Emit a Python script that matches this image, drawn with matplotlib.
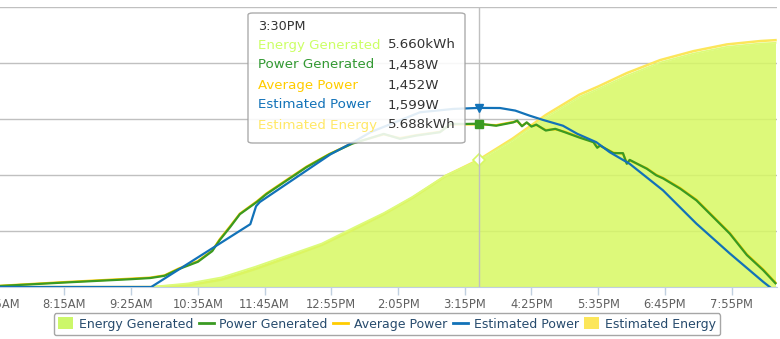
import matplotlib
matplotlib.use("Agg")
import matplotlib.pyplot as plt
from matplotlib.patches import Patch, FancyBboxPatch
from matplotlib.lines import Line2D

# --- data (times are 24h "H:MM") ---
power_times = ["7:05", "8:15", "9:25", "9:45", "10:00", "10:15", "10:35", "10:50", "10:58",
               "11:09", "11:19", "11:37", "11:47", "12:08", "12:29", "12:53", "13:17", "13:50",
               "14:07", "14:24", "14:49", "15:00", "15:17", "15:30", "15:48", "16:06", "16:10",
               "16:15", "16:20", "16:25", "16:30", "16:40", "16:50", "17:00", "17:15", "17:30",
               "17:34", "17:37", "17:51", "18:01", "18:05", "18:08", "18:26", "18:36", "18:43",
               "19:01", "19:18", "19:39", "19:53", "20:11", "20:28", "20:41"]
power_generated = [8, 40, 70, 80, 100, 160, 225, 320, 420,
                   537, 650, 760, 830, 950, 1070, 1185, 1280, 1367,
                   1323, 1352, 1382, 1456, 1456, 1458, 1440, 1470, 1486,
                   1435, 1470, 1432, 1450, 1397, 1412, 1382, 1335, 1293,
                   1243, 1263, 1195, 1195, 1100, 1135, 1056, 997, 970,
                   878, 774, 596, 477, 285, 151, 33]
average_power = [10, 44, 75, 84, 104, 166, 231, 326, 428,
                 545, 655, 766, 836, 956, 1075, 1188, 1284, 1362,
                 1330, 1356, 1386, 1450, 1452, 1452, 1445, 1474, 1480,
                 1440, 1466, 1438, 1446, 1402, 1408, 1386, 1340, 1298,
                 1250, 1260, 1200, 1190, 1108, 1130, 1060, 1002, 975,
                 884, 780, 602, 483, 292, 158, 40]

est_power_times = ["7:05", "9:46", "11:30", "11:36", "11:40", "12:54",
                   "13:18", "13:36", "14:28", "15:03", "15:30", "15:52", "16:08", "16:23", "16:37",
                   "16:58", "17:13", "17:33", "17:47", "18:08", "18:43", "19:18", "19:53", "20:28",
                   "20:35"]
estimated_power = [0, 0, 561, 721, 759, 1184,
                   1293, 1382, 1560, 1590, 1599, 1598, 1575, 1530, 1492,
                   1440, 1368, 1293, 1204, 1100, 863, 566, 300, 47,
                   0]

energy_times = ["7:05", "9:45", "10:25", "11:00", "11:35", "12:10", "12:45", "13:20", "13:50",
                "14:20", "14:55", "15:30", "16:05", "16:40", "17:15", "17:35", "18:05", "18:40",
                "19:15", "19:50", "20:25", "20:41"]
energy_generated = [0.0, 0.0, 0.16, 0.43, 0.90, 1.42, 1.94, 2.68, 3.30,
                    4.02, 4.98, 5.66, 6.54, 7.58, 8.47, 8.84, 9.43, 10.02,
                    10.42, 10.72, 10.87, 10.90]
estimated_energy = [0.0, 0.0, 0.08, 0.33, 0.80, 1.33, 1.88, 2.60, 3.25,
                    3.98, 4.96, 5.688, 6.62, 7.68, 8.58, 8.95, 9.55, 10.13,
                    10.53, 10.83, 10.98, 11.02]

tick_labels = ["7:05AM", "8:15AM", "9:25AM", "10:35AM", "11:45AM", "12:55PM", "2:05PM",
               "3:15PM", "4:25PM", "5:35PM", "6:45PM", "7:55PM"]
hover_time = "15:30"
hover_label = "3:30PM"
hover_values = ["5.660kWh", "1,458W", "1,452W", "1,599W", "5.688kWh"]


def to_min(s):
    h, m = s.split(":")
    return int(h) * 60 + int(m)


def label_to_min(s):
    hm, ampm = s[:-2], s[-2:]
    h, m = hm.split(":")
    h = int(h) % 12 + (12 if ampm == "PM" else 0)
    return h * 60 + int(m)


pt = [to_min(t) for t in power_times]
ept = [to_min(t) for t in est_power_times]
et = [to_min(t) for t in energy_times]
ht = to_min(hover_time)

C_ENERGY = "#d7f863"
C_ENERGY_EDGE = "#dcfb7a"
C_POWER = "#3a9a22"
C_AVG = "#ffcc00"
C_EST = "#1272b8"
C_EST_EN = "#fce65a"

plt.rcParams["font.family"] = ["DejaVu Sans"]

W, H = 780, 339
fig = plt.figure(figsize=(W / 100, H / 100), dpi=100)
fig.patch.set_facecolor("white")

rect = [-3 / W, 52 / H, 780 / W, 280 / H]
ax2 = fig.add_axes(rect)          # energy (kWh), drawn underneath
ax = fig.add_axes(rect, sharex=ax2)  # power (W), on top
ax.patch.set_visible(False)

# energy axis
ax2.set_ylim(0, 12.5)
ax2.set_yticks([0, 2.5, 5, 7.5, 10, 12.5])
ax2.grid(axis="y", color="#c0c0c0", lw=1)
ax2.set_axisbelow(True)
ax2.plot(et, estimated_energy, color=C_EST_EN, lw=1.8, zorder=2)
ax2.fill_between(et, 0, energy_generated, color=C_ENERGY, alpha=0.85, lw=0, zorder=3)
ax2.plot(et, energy_generated, color=C_ENERGY_EDGE, lw=1.3, zorder=3)
for s in ax2.spines.values():
    s.set_visible(False)
ax2.tick_params(left=False, labelleft=False, bottom=False, labelbottom=False)

# power axis
ax.set_ylim(0, 2500)
ax.set_xlim(424.2, 1242.6)
ax.plot(pt, average_power, color=C_AVG, lw=1.6, zorder=3)
ax.plot(pt, power_generated, color=C_POWER, lw=1.6, zorder=4)
ax.plot(ept, estimated_power, color=C_EST, lw=1.6, zorder=5)
for k in ["top", "left", "right"]:
    ax.spines[k].set_visible(False)
ax.spines["bottom"].set_color("#c0d0e0")
ax.tick_params(left=False, labelleft=False)
ax.set_xticks([label_to_min(s) for s in tick_labels])
ax.set_xticklabels(tick_labels)
ax.tick_params(axis="x", colors="#c0d0e0", length=6, width=1, labelcolor="#606060",
               labelsize=8.3, pad=2)

# crosshair + hover markers
ax.axvline(ht, color="#c0c0c0", lw=1, zorder=6)
ax.plot([ht], [estimated_power[est_power_times.index(hover_time)]], marker="v",
        color=C_EST, ms=6, zorder=7)
ax.plot([ht], [power_generated[power_times.index(hover_time)]], marker="s",
        color=C_POWER, ms=6, zorder=7)
ax2.plot([ht], [energy_generated[energy_times.index(hover_time)]], marker="D",
         mfc="white", mec=C_ENERGY, mew=1.2, ms=6, zorder=7)

# tooltip
fig.patches.append(FancyBboxPatch((248 / W, 1 - 143 / H), (465 - 248) / W, (143 - 13) / H,
                                  boxstyle="round,pad=0,rounding_size=0.006",
                                  transform=fig.transFigure, fc="white", ec="#a0a0a0",
                                  lw=1, alpha=0.88, zorder=10))
fig.text(258 / W, 1 - 27 / H, hover_label, fontsize=9.2, color="#333333", va="center", zorder=11)
names = ["Energy Generated", "Power Generated", "Average Power", "Estimated Power", "Estimated Energy"]
colors = ["#ccff66", "#339933", "#ffcc00", "#1272b8", "#ffe866"]
for i, (n, c, v) in enumerate(zip(names, colors, hover_values)):
    y = 1 - (45 + 20 * i) / H
    fig.text(258 / W, y, n, fontsize=9.6, color=c, va="center", zorder=11)
    fig.text(388 / W, y, v, fontsize=9.6, color="#333333", va="center", zorder=11)

# legend
handles = [Patch(fc="#ccf76a", ec="none"),
           Line2D([], [], color=C_POWER, lw=2),
           Line2D([], [], color=C_AVG, lw=2),
           Line2D([], [], color=C_EST, lw=2),
           Patch(fc="#fce65a", ec="none")]
leg = fig.legend(handles, names, loc="center", bbox_to_anchor=(387 / W, 1 - 324 / H),
                 ncol=5, frameon=True, fontsize=9, handlelength=1.2, handleheight=1.1,
                 handletextpad=0.45, columnspacing=0.45, borderpad=0.35, fancybox=True)
leg.get_frame().set_edgecolor("#909090")
leg.get_frame().set_linewidth(1)
for t in leg.get_texts():
    t.set_color("#274b6d")

fig.savefig("out.png", dpi=100)
